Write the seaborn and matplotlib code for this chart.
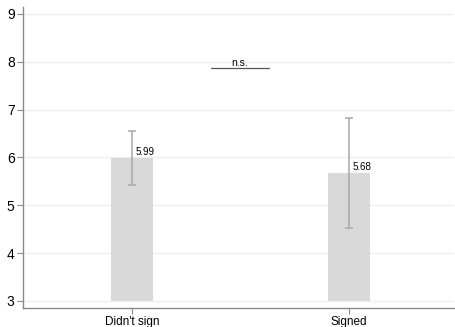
import matplotlib
matplotlib.use("Agg")
import matplotlib.pyplot as plt
import seaborn as sns
import pandas as pd

categories = ["Didn't sign", "Signed"]
means = [5.99, 5.68]
ci_low = [5.43, 4.52]
ci_high = [6.55, 6.82]
labels = ["5.99", "5.68"]
y_ticks = [3, 4, 5, 6, 7, 8, 9]
base = 3

sns.set_theme(style="white")
plt.rcParams['font.family'] = ['Liberation Sans', 'DejaVu Sans']

df = pd.DataFrame({"group": categories, "height": [m - base for m in means]})

fig = plt.figure(figsize=(4.55, 3.27), dpi=100)
ax = fig.add_axes([0.0505, 0.058, 0.9475, 0.9215])

sns.barplot(data=df, x="group", y="height", bottom=base, color="#d9d9d9",
            width=0.19, errorbar=None, ax=ax, saturation=1, zorder=2, linewidth=0)

xs = list(range(len(categories)))
yerr = [[m - l for m, l in zip(means, ci_low)], [h - m for m, h in zip(means, ci_high)]]
ax.errorbar(xs, means, yerr=yerr, fmt="none", ecolor="#a8a8a8", elinewidth=1.1,
            capsize=3, capthick=1.1, zorder=3)

for x, m, t in zip(xs, means, labels):
    ax.text(x + 0.017, m + 0.02, t, fontsize=7, ha="left", va="bottom", color="#000000", zorder=4)

ax.plot([0.364, 0.631], [7.87, 7.87], color="#555555", lw=0.9, zorder=4)
ax.text(0.498, 7.87, "n.s.", fontsize=7.5, ha="center", va="bottom", color="#000000")

ax.set_xlim(-0.502, 1.484)
ax.set_ylim(2.85, 9.15)
ax.set_yticks(y_ticks)
ax.set_yticklabels([str(v) for v in y_ticks], fontsize=10)
ax.tick_params(axis="x", labelsize=8.5)
ax.set_xlabel("")
ax.set_ylabel("")
ax.yaxis.grid(True, color="#efefef", lw=1, zorder=0)
ax.set_axisbelow(True)
for s in ["top", "right"]:
    ax.spines[s].set_visible(False)
for s in ["left", "bottom"]:
    ax.spines[s].set_color("#888888")
    ax.spines[s].set_linewidth(1)
ax.tick_params(axis="both", which="both", length=4, width=0.8, color="#888888", pad=2,
               left=True, bottom=True, labelcolor="#000000")

fig.savefig("out.png", dpi=100)
